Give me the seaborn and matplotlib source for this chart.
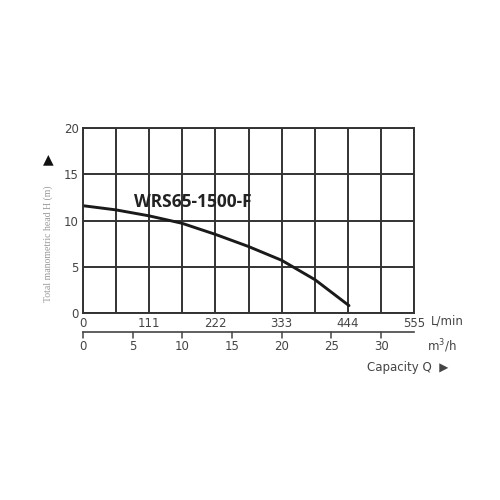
import numpy as np
import pandas as pd
import matplotlib
matplotlib.use("Agg")
import matplotlib.pyplot as plt
import seaborn as sns

# pump curve
flow_lpm = [0, 55, 111, 166, 222, 277, 333, 389, 446]
head_m = [11.6, 11.15, 10.5, 9.7, 8.5, 7.2, 5.7, 3.6, 0.8]
lpm_labels = ["0", "", "111", "", "222", "", "333", "", "444", "", "555"]
m3h_ticks = [0, 5, 10, 15, 20, 25, 30]
head_ticks = [0, 5, 10, 15, 20]
model = "WRS65-1500-F"

sns.set_style("white")
plt.rcParams['font.family'] = ['DejaVu Sans']

W = H = 500
fig = plt.figure(figsize=(5, 5), dpi=100)

def box(x0, y0, x1, y1):
    # pixel box -> figure fraction
    return [x0 / W, 1 - y1 / H, (x1 - x0) / W, (y1 - y0) / H]

ax = fig.add_axes(box(83, 128, 414, 313))
df = pd.DataFrame({"flow": flow_lpm, "head": head_m})
sns.lineplot(data=df, x="flow", y="head", ax=ax, color="#1a1a1a", lw=2.1)
ax.set_xlim(0, 555)
ax.set_ylim(0, 20)
ax.set_xticks(np.linspace(0, 555, 11))
ax.set_xticklabels(lpm_labels)
ax.set_yticks(head_ticks)
ax.grid(True, color="#333333", lw=1.4)
ax.tick_params(length=0, labelsize=8.5, colors="#444444", pad=3)
ax.set_xlabel("")
ax.set_ylabel("")
for s in ax.spines.values():
    s.set_color("#333333")
    s.set_linewidth(1.4)
ax.text(184, 12.0, model, fontsize=12.5, fontweight="bold", color="#222222",
        ha="center", va="center", family="Open Sans")
ax.text(1.05, -0.045, "L/min", transform=ax.transAxes, fontsize=8.5,
        color="#444444", ha="left", va="center")

# second flow axis in m3/h
ax2 = fig.add_axes(box(83, 332, 414, 342))
ax2.set_xlim(0, 555 * 60 / 1000)
ax2.set_ylim(0, 1)
for k in ["left", "right", "bottom"]:
    ax2.spines[k].set_visible(False)
ax2.spines["top"].set_color("#444444")
ax2.spines["top"].set_linewidth(1.2)
ax2.set_xticks([])
ax2.set_yticks([])
ax2.set_facecolor("none")
for t in m3h_ticks:
    ax2.plot([t, t], [1, 0.45], color="#444444", lw=1.1, clip_on=False)
    ax2.text(t, -0.4, str(t), ha="center", va="center", fontsize=8.5, color="#444444")
ax2.text(1.04, -0.4, "m$^3$/h", transform=ax2.transAxes, fontsize=8.5,
         color="#444444", ha="left", va="center")

fig.text(367 / W, 1 - 368 / H, "Capacity Q  \u25B6", fontsize=8.5, color="#444444",
         ha="left", va="center")
fig.text(48 / W, 1 - 159 / H, "\u25B2", fontsize=10, color="#111111",
         ha="center", va="center")
fig.text(48 / W, 1 - 244 / H, "Total manometric head H (m)", rotation=90,
         fontsize=7, color="#999999", ha="center", va="center", family="Liberation Serif")

fig.savefig("out.png", dpi=100)
